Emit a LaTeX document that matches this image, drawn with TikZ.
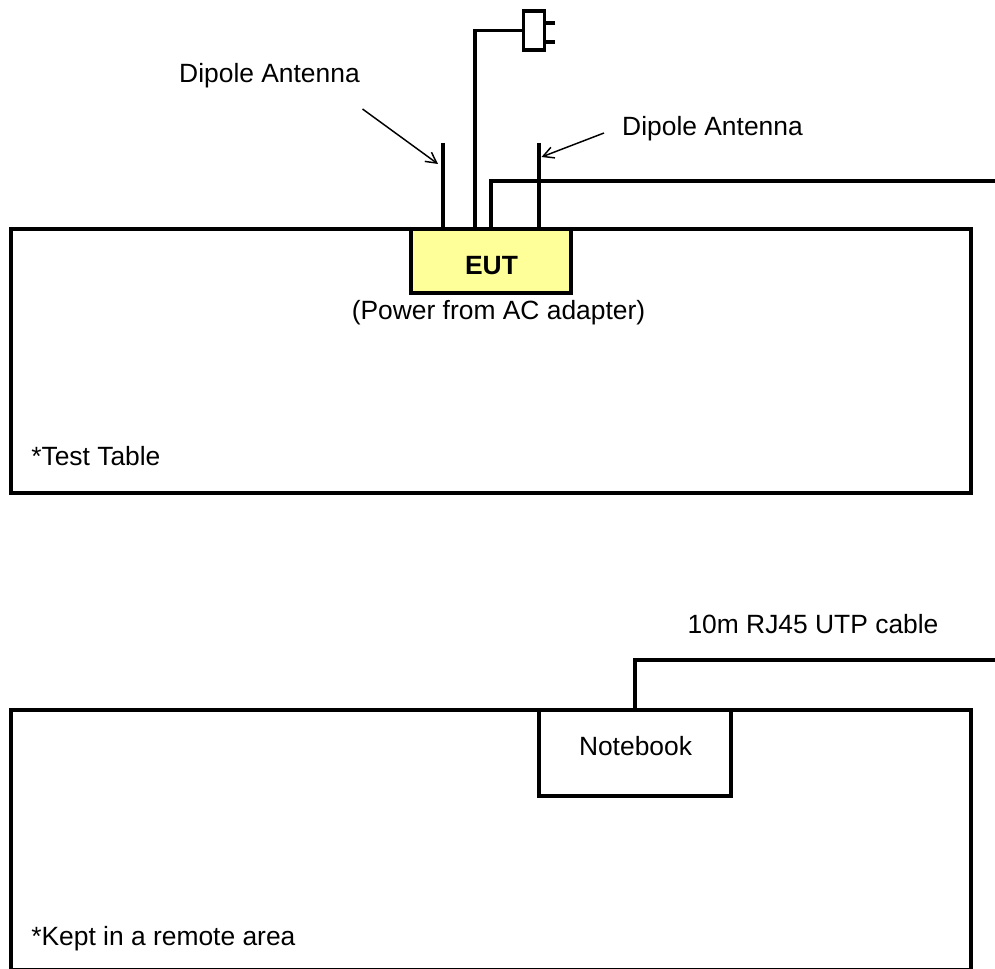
\documentclass[tikz,border=0pt]{standalone}
\usepackage{fontspec}
\setmainfont{Liberation Sans}
\usetikzlibrary{arrows.meta,calc}
\definecolor{eutyellow}{HTML}{FFFF99}
\tikzset{
  box/.style={draw,line width=2.6pt,inner sep=0pt,outer sep=0pt},
  wire/.style={line width=2.6pt},
  lbl/.style={inner sep=0pt,anchor=base,font=\fontsize{19.8pt}{23pt}\selectfont},
  pointer/.style={-{Straight Barb[length=8pt,width=8.5pt]},line width=1.1pt}
}

\begin{document}
\begin{tikzpicture}[x=0.75pt,y=-0.75pt]
\useasboundingbox (0,0) rectangle (995,969);
% test table with the EUT
\node[box,minimum width=720pt,minimum height=198pt] (testtable) at (491,361) {};
\node[box,fill=eutyellow,minimum width=120pt,minimum height=48pt] (eut) at (491,261) {};
\node[lbl,font=\fontsize{19.8pt}{23pt}\selectfont\bfseries] (eutlabel) at (491.5,275) {EUT};
\node[lbl] (adapterlabel) at (498.5,320) {(Power from AC adapter)};
\node[lbl,anchor=base west] (testlabel) at (31,465) {*Test Table};
% antennas
\coordinate (antleft) at (443,143);
\coordinate (antright) at (539,143);
\draw[wire] (antleft) -- (antleft |- eut.north);
\draw[wire] (antright) -- (antright |- eut.north);
\node[lbl] (dipoleleft) at (269.5,83) {Dipole Antenna};
\node[lbl] (dipoleright) at (712.5,135.5) {Dipole Antenna};
\coordinate (tailleft) at (362.5,109);
\coordinate (tipleft) at (438,164);
\coordinate (tailright) at (604,133);
\coordinate (tipright) at (541.5,157);
\draw[pointer] (tailleft) -- (tipleft);
\draw[pointer] (tailright) -- (tipright);
% power cord and plug
\node[box,minimum width=15.5pt,minimum height=29pt] (plug) at (534,30.5) {};
\coordinate (cordbase) at (475,229);
\draw[wire] (cordbase) |- (plug.west);
\coordinate (prongtop) at (555,23);
\coordinate (prongbot) at (555,42);
\draw[wire] (prongtop) -- (prongtop -| plug.east);
\draw[wire] (prongbot) -- (prongbot -| plug.east);
% lan cable
\coordinate (lanbase) at (491,229);
\coordinate (lanend) at (995,181);
\draw[wire] (lanbase) |- (lanend);
% remote table with the notebook
\node[box,minimum width=720pt,minimum height=195pt] (remotetable) at (491,840) {};
\node[box,minimum width=144pt,minimum height=64.5pt] (notebook) at (635,753) {};
\node[lbl] (notebooklabel) at (635.5,755) {Notebook};
\node[lbl,anchor=base west] (remotelabel) at (31,945) {*Kept in a remote area};
\node[lbl] (cablelabel) at (813,633) {10m RJ45 UTP cable};
\coordinate (cableend) at (995,660);
\draw[wire] (notebook.north) |- (cableend);
\end{tikzpicture}
\end{document}
